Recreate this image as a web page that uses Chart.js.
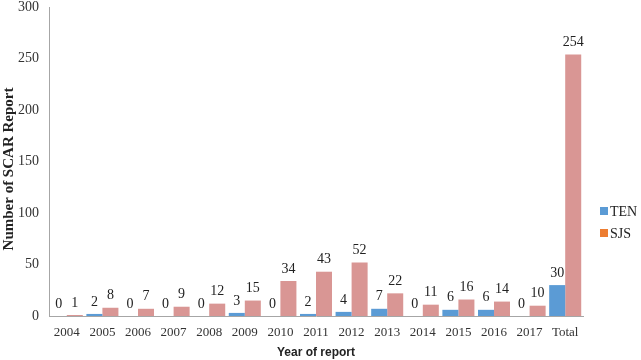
<!DOCTYPE html>
<html>
<head>
<meta charset="utf-8">
<script src="https://cdn.jsdelivr.net/npm/chart.js@4/dist/chart.umd.min.js"></script>
<style>
  html, body { margin: 0; padding: 0; background: #fff; }
  #wrap { width: 641px; height: 360px; position: relative; }
</style>
</head>
<body>
<div id="wrap"><canvas id="chart"></canvas></div>
<script>
// Data
const years = ['2004', '2005', '2006', '2007', '2008', '2009', '2010', '2011', '2012', '2013', '2014', '2015', '2016', '2017', 'Total'];
const tenValues = [0, 2, 0, 0, 0, 3, 0, 2, 4, 7, 0, 6, 6, 0, 30];
const sjsValues = [1, 8, 7, 9, 12, 15, 34, 43, 52, 22, 11, 16, 14, 10, 254];
const yTicks = [0, 50, 100, 150, 200, 250, 300];

const legendItems = [
    { text: 'TEN', color: '#5b9bd5' },
    { text: 'SJS', color: '#ed7d31' }
];

// Value labels above every bar
const valueLabels = {
    id: 'valueLabels',
    afterDatasetsDraw(chart) {
        const ctx = chart.ctx;
        ctx.save();
        ctx.font = '14px "Liberation Serif", "Times New Roman", serif';
        ctx.fillStyle = '#222';
        ctx.textAlign = 'center';
        ctx.textBaseline = 'bottom';
        chart.data.datasets.forEach(function (ds, i) {
            chart.getDatasetMeta(i).data.forEach(function (bar, j) {
                ctx.fillText(String(ds.data[j]), bar.x, bar.y - 5);
            });
        });
        ctx.restore();
    }
};

// Legend drawn at the right side like the original
const sideLegend = {
    id: 'sideLegend',
    afterDraw(chart) {
        const ctx = chart.ctx;
        ctx.save();
        ctx.font = '14px "Liberation Serif", "Times New Roman", serif';
        ctx.textBaseline = 'middle';
        legendItems.forEach(function (item, i) {
            const y = 211 + i * 22;
            ctx.fillStyle = item.color;
            ctx.fillRect(600, y - 4, 8, 8);
            ctx.fillStyle = '#222';
            ctx.fillText(item.text, 610, y + 1);
        });
        ctx.restore();
    }
};

new Chart(document.getElementById('chart'), {
    type: 'bar',
    data: {
        labels: years,
        datasets: [{
            label: 'TEN',
            data: tenValues,
            backgroundColor: '#5b9bd5',
            barPercentage: 1.0,
            categoryPercentage: 0.9
        }, {
            label: 'SJS',
            data: sjsValues,
            backgroundColor: '#d99694',
            barPercentage: 1.0,
            categoryPercentage: 0.9
        }]
    },
    options: {
        responsive: true,
        maintainAspectRatio: false,
        animation: false,
        layout: { padding: { top: 7, right: 58, left: 0, bottom: 0 } },
        plugins: {
            legend: { display: false },
            tooltip: { enabled: false }
        },
        scales: {
            x: {
                grid: { display: false },
                border: { color: '#a6a6a6' },
                ticks: {
                    color: '#333',
                    padding: 1,
                    font: { family: '"Liberation Serif", "Times New Roman", serif', size: 13 },
                    maxRotation: 0,
                    autoSkip: false
                },
                title: {
                    display: true,
                    text: 'Year of report',
                    color: '#222',
                    font: { family: '"Liberation Sans", Arial, sans-serif', size: 12, weight: 'bold' },
                    padding: { top: 4, bottom: 0 }
                },
                afterFit: function (scale) { scale.height = 44; }
            },
            y: {
                min: 0,
                max: 300,
                grid: { display: false, drawTicks: false },
                border: { color: '#a6a6a6' },
                afterBuildTicks: function (scale) {
                    scale.ticks = yTicks.map(function (v) { return { value: v }; });
                },
                ticks: {
                    color: '#333',
                    padding: 10,
                    font: { family: '"Liberation Serif", "Times New Roman", serif', size: 14, lineHeight: 1 }
                },
                title: {
                    display: true,
                    // trailing spaces nudge the rotated title slightly down, as in the original
                    text: 'Number of SCAR Report    ',
                    color: '#222',
                    font: { family: '"Liberation Serif", "Times New Roman", serif', size: 15, weight: 'bold' },
                    padding: { top: 0, bottom: 4 }
                },
                afterFit: function (scale) {
                    scale.width = 49;
                    scale.paddingTop = 0;
                    scale.paddingBottom = 0;
                }
            }
        }
    },
    plugins: [valueLabels, sideLegend]
});
</script>
</body>
</html>
